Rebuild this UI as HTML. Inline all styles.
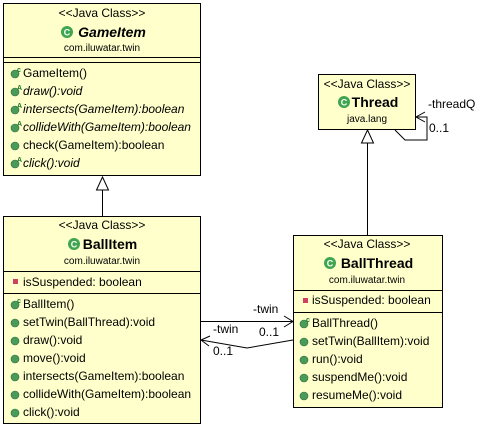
<!DOCTYPE html>
<html><head><meta charset="utf-8"><style>
html,body{margin:0;padding:0;background:#fff}
svg{display:block;font-family:"Liberation Sans",sans-serif}
</style></head><body>
<svg width="479" height="428" viewBox="0 0 479 428" xmlns="http://www.w3.org/2000/svg">
<defs>
<g id="dot"><circle r="4" fill="#4a9a5a" stroke="#2d6e3a" stroke-width="0.6"/></g>
<g id="cls"><circle r="6" fill="#3fa54f"/><text x="0" y="3.5" text-anchor="middle" font-size="9" font-weight="bold" fill="#fff">C</text></g>
</defs>
<g fill="#ffffcc" stroke="#000" stroke-width="1">
<rect x="3.5" y="3.5" width="197" height="172"/>
<rect x="3.5" y="216.5" width="197" height="207"/>
<rect x="318.5" y="74.5" width="97" height="55"/>
<rect x="293.5" y="235.5" width="149" height="172"/>
</g>
<g stroke="#000" fill="none">
<line x1="3" y1="57.5" x2="200" y2="57.5"/><line x1="3" y1="62.5" x2="200" y2="62.5"/>
<line x1="3" y1="271.5" x2="200" y2="271.5"/><line x1="3" y1="293.5" x2="200" y2="293.5"/>
<line x1="293" y1="290.5" x2="442" y2="290.5"/><line x1="293" y1="312.5" x2="442" y2="312.5"/>
<line x1="102.5" y1="216" x2="102.5" y2="190"/>
<polygon points="102.5,177 96.5,190 108.5,190" fill="#fff"/>
<line x1="367.5" y1="235" x2="367.5" y2="143"/>
<polygon points="367.5,130 361.5,143 373.5,143" fill="#fff"/>
<polyline points="395,130 405,140 427,140 427,117 416,117"/>
<polyline points="425,112 416,117 425,122"/>
<line x1="200" y1="321.5" x2="293" y2="321.5"/>
<polyline points="284,316 293,321.5 284,327"/>
<polyline points="293,340 247,348 201,340"/>
<polyline points="210,336 201,340 209,346"/>
</g>
<g font-size="12" fill="#000">
<text x="102" y="17" text-anchor="middle">&lt;&lt;Java Class&gt;&gt;</text>
<text x="112" y="37" text-anchor="middle" font-size="14" font-weight="bold" font-style="italic">GameItem</text>
<use href="#cls" x="67" y="32"/>
<text x="102" y="51" text-anchor="middle" font-size="10">com.iluwatar.twin</text>
<text x="23" y="77">GameItem()</text>
<text x="23" y="95" font-style="italic">draw():void</text>
<text x="23" y="113" font-style="italic">intersects(GameItem):boolean</text>
<text x="23" y="131" font-style="italic">collideWith(GameItem):boolean</text>
<text x="23" y="149">check(GameItem):boolean</text>
<text x="23" y="167" font-style="italic">click():void</text>

<text x="102" y="229" text-anchor="middle">&lt;&lt;Java Class&gt;&gt;</text>
<text x="110" y="249" text-anchor="middle" font-size="14" font-weight="bold">BallItem</text>
<use href="#cls" x="74" y="244"/>
<text x="102" y="264" text-anchor="middle" font-size="10">com.iluwatar.twin</text>
<rect x="13" y="279" width="5" height="5" fill="#d04060"/>
<text x="23" y="286">isSuspended: boolean</text>
<text x="23" y="308">BallItem()</text>
<text x="23" y="326">setTwin(BallThread):void</text>
<text x="23" y="344">draw():void</text>
<text x="23" y="362">move():void</text>
<text x="23" y="380">intersects(GameItem):boolean</text>
<text x="23" y="398">collideWith(GameItem):boolean</text>
<text x="23" y="416">click():void</text>

<text x="367" y="88" text-anchor="middle">&lt;&lt;Java Class&gt;&gt;</text>
<text x="375" y="107" text-anchor="middle" font-size="14" font-weight="bold">Thread</text>
<use href="#cls" x="344" y="102"/>
<text x="367" y="122" text-anchor="middle" font-size="10">java.lang</text>

<text x="367" y="248" text-anchor="middle">&lt;&lt;Java Class&gt;&gt;</text>
<text x="377" y="268" text-anchor="middle" font-size="14" font-weight="bold">BallThread</text>
<use href="#cls" x="330" y="263"/>
<text x="367" y="283" text-anchor="middle" font-size="10">com.iluwatar.twin</text>
<rect x="303" y="298" width="5" height="5" fill="#d04060"/>
<text x="312" y="304">isSuspended: boolean</text>
<text x="312" y="327">BallThread()</text>
<text x="312" y="345">setTwin(BallItem):void</text>
<text x="312" y="363">run():void</text>
<text x="312" y="381">suspendMe():void</text>
<text x="312" y="399">resumeMe():void</text>

<text x="428" y="108">-threadQ</text>
<text x="429" y="132">0..1</text>
<text x="253" y="313">-twin</text>
<text x="259" y="336">0..1</text>
<text x="213" y="333">-twin</text>
<text x="213" y="355">0..1</text>
</g>
<g>
<use href="#dot" x="15" y="74"/><use href="#dot" x="15" y="92"/><use href="#dot" x="15" y="110"/><use href="#dot" x="15" y="128"/><use href="#dot" x="15" y="146"/><use href="#dot" x="15" y="164"/>
<use href="#dot" x="15" y="305"/><use href="#dot" x="15" y="323"/><use href="#dot" x="15" y="341"/><use href="#dot" x="15" y="359"/><use href="#dot" x="15" y="377"/><use href="#dot" x="15" y="395"/><use href="#dot" x="15" y="413"/>
<use href="#dot" x="304" y="324"/><use href="#dot" x="304" y="342"/><use href="#dot" x="304" y="360"/><use href="#dot" x="304" y="378"/><use href="#dot" x="304" y="396"/>
</g>
<g font-size="7" fill="#1a7a2a" font-weight="bold">
<text x="17" y="72">c</text><text x="17" y="90">A</text><text x="17" y="108">A</text><text x="17" y="126">A</text><text x="17" y="162">A</text>
<text x="17" y="303">c</text><text x="306" y="322">c</text>
</g>
</svg>
</body></html>
